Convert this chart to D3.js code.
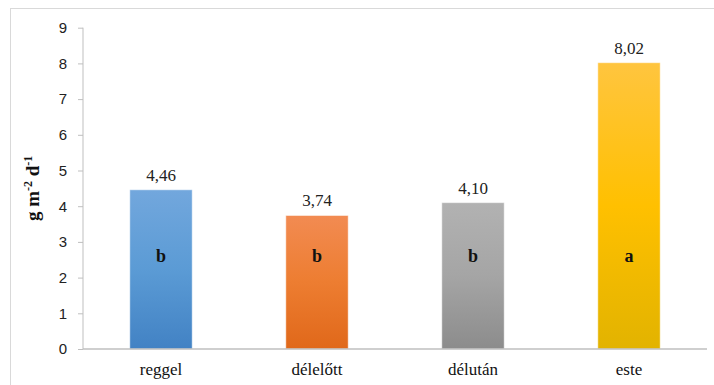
<!DOCTYPE html>
<html>
<head>
<meta charset="utf-8">
<script src="https://cdn.jsdelivr.net/npm/d3@7"></script>
<style>
  html, body { margin: 0; padding: 0; background: #fff; }
  svg { display: block; }
</style>
</head>
<body>
<svg id="chart" width="714" height="385"></svg>
<script>
const categories = ["reggel", "délelőtt", "délután", "este"];
const values = [4.46, 3.74, 4.10, 8.02];
const valueLabels = ["4,46", "3,74", "4,10", "8,02"];
const groupLetters = ["b", "b", "b", "a"];
const yTicks = [0, 1, 2, 3, 4, 5, 6, 7, 8, 9];
const barColors = [
  ["#72a7dd", "#5b9bd5", "#4282c4"],
  ["#f28b52", "#ed7d31", "#e0681a"],
  ["#b2b2b2", "#a5a5a5", "#8c8c8c"],
  ["#ffc53f", "#ffc000", "#e2b300"]
];

(function () {
const svg = d3.select("#chart");
const mLeft = 83, mRight = 707, mTop = 27.7, mBottom = 349;

// chart frame
svg.append("rect").attr("x", 10.5).attr("y", 8.5).attr("width", 720).attr("height", 400)
  .attr("fill", "none").attr("stroke", "#d9d9d9").attr("stroke-width", 1);

const x = d3.scaleBand().domain(categories).range([mLeft, mRight]).paddingInner(0.6).paddingOuter(0.3);
const y = d3.scaleLinear().domain([0, 9]).range([mBottom, mTop]);

const defs = svg.append("defs");
barColors.forEach((c, i) => {
  const g = defs.append("linearGradient").attr("id", "g" + i)
    .attr("x1", 0).attr("y1", 0).attr("x2", 0).attr("y2", 1);
  g.append("stop").attr("offset", "0%").attr("stop-color", c[0]);
  g.append("stop").attr("offset", "50%").attr("stop-color", c[1]);
  g.append("stop").attr("offset", "100%").attr("stop-color", c[2]);
});

// y axis
const yAxis = svg.append("g").attr("transform", `translate(${mLeft},0)`)
  .call(d3.axisLeft(y).tickValues(yTicks).tickSize(5).tickPadding(11).tickFormat(d3.format("d")));
yAxis.select(".domain").attr("stroke", "#bfbfbf").attr("d", `M0,${mTop}V${mBottom}`);
yAxis.selectAll(".tick line").attr("stroke", "#bfbfbf");
yAxis.selectAll(".tick text").attr("font-family", "Liberation Sans, Arial, sans-serif")
  .attr("font-size", 15).attr("fill", "#222");

// bars
const data = categories.map((c, i) => ({ c, v: values[i], lab: valueLabels[i], g: groupLetters[i], i }));
svg.append("g").selectAll("rect").data(data).join("rect")
  .attr("x", d => x(d.c)).attr("y", d => y(d.v))
  .attr("width", x.bandwidth()).attr("height", d => y(0) - y(d.v))
  .attr("fill", d => `url(#g${d.i})`)
  .attr("stroke", "rgba(255,255,255,0.5)").attr("stroke-width", 1);

// x axis
const xAxis = svg.append("g").attr("transform", `translate(0,${mBottom})`)
  .call(d3.axisBottom(x).tickSize(0).tickPadding(14));
xAxis.select(".domain").attr("stroke", "#bfbfbf").attr("stroke-width", 1.5).attr("d", `M${mLeft},0H${mRight}`);
xAxis.selectAll(".tick text").attr("font-family", "Liberation Serif, Times New Roman, serif")
  .attr("font-size", 17).attr("fill", "#111");

// value labels
svg.append("g").selectAll("text").data(data).join("text")
  .attr("x", d => x(d.c) + x.bandwidth() / 2).attr("y", d => y(d.v) - 9)
  .attr("text-anchor", "middle")
  .attr("font-family", "Liberation Serif, Times New Roman, serif").attr("font-size", 17).attr("fill", "#222")
  .text(d => d.lab);

// group letters
svg.append("g").selectAll("text").data(data).join("text")
  .attr("x", d => x(d.c) + x.bandwidth() / 2).attr("y", y(2.6)).attr("dy", "0.35em")
  .attr("text-anchor", "middle")
  .attr("font-family", "Liberation Serif, Times New Roman, serif").attr("font-size", 18)
  .attr("font-weight", "bold").attr("fill", "#111")
  .text(d => d.g);

// y axis title
const t = svg.append("text").attr("transform", `translate(39,${(mTop + mBottom) / 2}) rotate(-90)`)
  .attr("text-anchor", "middle")
  .attr("font-family", "Liberation Serif, Times New Roman, serif").attr("font-size", 19)
  .attr("font-weight", "bold").attr("fill", "#111");
t.append("tspan").text("g m");
t.append("tspan").attr("dy", -7).attr("font-size", 12).text("-2");
t.append("tspan").attr("dy", 7).text(" d");
t.append("tspan").attr("dy", -7).attr("font-size", 12).text("-1");
})();
</script>
</body>
</html>
